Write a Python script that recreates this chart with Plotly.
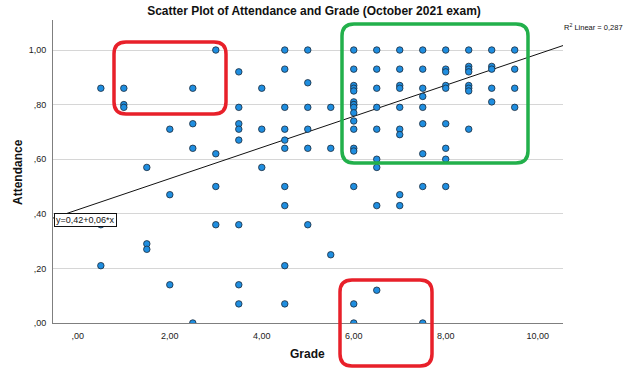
import plotly.graph_objects as go

grade = [0.5, 0.5, 0.5,
         1.0, 1.0, 1.0,
         1.5, 1.5, 1.5,
         2.0, 2.0, 2.0,
         2.5, 2.5, 2.5, 2.5,
         3.0, 3.0, 3.0, 3.0,
         3.5, 3.5, 3.5, 3.5, 3.5, 3.5, 3.5, 3.5,
         4.0, 4.0, 4.0,
         4.5, 4.5, 4.5, 4.5, 4.5, 4.5, 4.5, 4.5, 4.5, 4.5,
         5.0, 5.0, 5.0, 5.0, 5.0, 5.0,
         5.5, 5.5, 5.5,
         6.0, 6.0, 6.0, 6.0, 6.0, 6.0, 6.0, 6.0, 6.0, 6.0, 6.0, 6.0, 6.0, 6.0, 6.0, 6.0, 6.0,
         6.5, 6.5, 6.5, 6.5, 6.5, 6.5, 6.5, 6.5, 6.5,
         7.0, 7.0, 7.0, 7.0, 7.0, 7.0, 7.0, 7.0, 7.0,
         7.5, 7.5, 7.5, 7.5, 7.5, 7.5, 7.5, 7.5, 7.5,
         8.0, 8.0, 8.0, 8.0, 8.0, 8.0, 8.0, 8.0, 8.0,
         8.5, 8.5, 8.5, 8.5, 8.5, 8.5, 8.5, 8.5,
         9.0, 9.0, 9.0, 9.0, 9.0,
         9.5, 9.5, 9.5, 9.5]
attendance = [0.86, 0.36, 0.21,
              0.86, 0.80, 0.79,
              0.57, 0.29, 0.27,
              0.71, 0.47, 0.14,
              0.86, 0.73, 0.64, 0.00,
              1.00, 0.62, 0.50, 0.36,
              0.92, 0.79, 0.73, 0.71, 0.67, 0.36, 0.14, 0.07,
              0.86, 0.71, 0.57,
              1.00, 0.93, 0.79, 0.71, 0.67, 0.64, 0.50, 0.43, 0.21, 0.07,
              1.00, 0.88, 0.79, 0.71, 0.64, 0.36,
              0.79, 0.64, 0.25,
              1.00, 0.93, 0.87, 0.86, 0.85, 0.81, 0.80, 0.80, 0.79, 0.77, 0.74, 0.71, 0.64, 0.63, 0.50, 0.07, 0.00,
              1.00, 0.93, 0.86, 0.79, 0.71, 0.60, 0.57, 0.43, 0.12,
              1.00, 0.93, 0.87, 0.86, 0.79, 0.71, 0.69, 0.47, 0.43,
              1.00, 0.93, 0.86, 0.83, 0.79, 0.73, 0.62, 0.50, 0.00,
              1.00, 0.93, 0.92, 0.87, 0.86, 0.73, 0.64, 0.60, 0.50,
              1.00, 0.94, 0.93, 0.92, 0.87, 0.86, 0.85, 0.71,
              1.00, 0.94, 0.93, 0.86, 0.81,
              1.00, 0.93, 0.86, 0.79]

fit_intercept = 0.415
fit_slope = 0.057
x_range = [-0.54, 10.55]
y_range = [0.0, 1.11]

x_ticks = [0, 2, 4, 6, 8, 10]
x_tick_labels = [",00", "2,00", "4,00", "6,00", "8,00", "10,00"]
y_ticks = [0.0, 0.2, 0.4, 0.6, 0.8, 1.0]
y_tick_labels = [",00", ",20", ",40", ",60", ",80", "1,00"]

FONT = "Liberation Sans, Arial, sans-serif"

fig = go.Figure()
fit_x = x_range
fit_y = [fit_intercept + fit_slope * v for v in fit_x]
fig.add_trace(go.Scatter(x=fit_x, y=fit_y, mode="lines",
                         line=dict(color="#111111", width=1), hoverinfo="skip"))
fig.add_trace(go.Scatter(x=grade, y=attendance, mode="markers",
                         marker=dict(size=6.5, color="#1f8ee0",
                                     line=dict(color="#1a2a3a", width=0.8))))

# plot area pixel geometry
L, R, T, B = 53, 563, 20, 323
W, H = R - L, B - T


def px(xp):
    return (xp - L) / W


def py(yp):
    return (B - yp) / H


def rounded(x0, y0, x1, y1, r=12):
    # pixel coords -> paper path with rounded corners
    a, b, c, d = px(x0), py(y0), px(x1), py(y1)
    rx, ry = r / W, r / H
    return (f"M {a+rx},{b} L {c-rx},{b} Q {c},{b} {c},{b-ry} "
            f"L {c},{d+ry} Q {c},{d} {c-rx},{d} L {a+rx},{d} "
            f"Q {a},{d} {a},{d+ry} L {a},{b-ry} Q {a},{b} {a+rx},{b} Z")


shapes = [
    dict(type="path", xref="paper", yref="paper", path=rounded(114, 42, 226, 114),
         line=dict(color="#e8202a", width=3.5)),
    dict(type="path", xref="paper", yref="paper", path=rounded(342, 24, 528, 163),
         line=dict(color="#22b04b", width=3.5)),
    dict(type="path", xref="paper", yref="paper", path=rounded(340, 280, 432, 366),
         line=dict(color="#e8202a", width=3.5)),
]

annotations = [
    dict(text="y=0,42+0,06*x", xref="paper", yref="paper", x=px(54), y=py(220),
         xanchor="left", yanchor="middle", showarrow=False,
         font=dict(family=FONT, size=9, color="#111111"),
         bgcolor="white", bordercolor="#111111", borderwidth=1, borderpad=1),
    dict(text="R<sup>2</sup> Linear = 0,287", xref="paper", yref="paper",
         x=px(625), y=py(27), xanchor="right", yanchor="middle", showarrow=False,
         font=dict(family=FONT, size=7.5, color="#111111")),
    dict(text="<b>Grade</b>", xref="paper", yref="paper", x=px(307), y=py(354),
         xanchor="center", yanchor="middle", showarrow=False,
         font=dict(family=FONT, size=12, color="#111111")),
    dict(text="<b>Attendance</b>", xref="paper", yref="paper", x=px(18), y=py(172),
         xanchor="center", yanchor="middle", showarrow=False, textangle=-90,
         font=dict(family=FONT, size=12, color="#111111")),
]

fig.update_layout(
    width=628, height=370,
    margin=dict(l=L, r=628 - R, t=T, b=370 - B, pad=0),
    paper_bgcolor="white", plot_bgcolor="white",
    showlegend=False,
    title=dict(text="<b>Scatter Plot of Attendance and Grade (October 2021 exam)</b>",
               x=0.5, xanchor="center", y=1 - 11 / 370, yanchor="middle",
               font=dict(family=FONT, size=12, color="#111111")),
    font=dict(family=FONT, size=9, color="#222222"),
    shapes=shapes,
    annotations=annotations,
)
fig.update_xaxes(range=x_range, tickvals=x_ticks, ticktext=x_tick_labels,
                 showgrid=False, zeroline=False, showline=True,
                 linecolor="#7f7f7f", linewidth=1, ticks="", ticklabelstandoff=4)
fig.update_yaxes(range=y_range, tickvals=y_ticks, ticktext=y_tick_labels,
                 showgrid=True, gridcolor="#d6d6d6", gridwidth=1,
                 zeroline=False, showline=True, linecolor="#7f7f7f", linewidth=1,
                 ticks="", ticklabelstandoff=4)

fig.write_html("out.html",
               config={"displayModeBar": False},
               post_script="document.body.style.margin='0';"
                           "document.body.style.padding='0';"
                           "document.body.style.overflow='hidden';")
